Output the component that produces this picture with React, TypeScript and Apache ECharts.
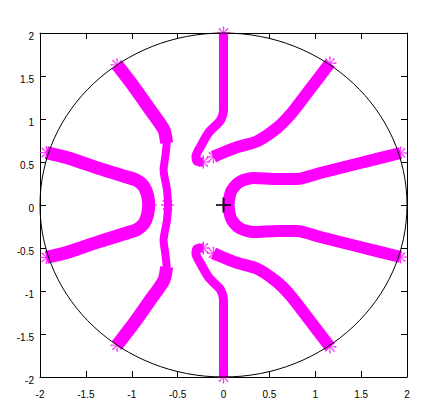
import { useEffect, useRef } from "react";
import * as echarts from "echarts";

// Axis ticks
const tickValues = [-2, -1.5, -1, -0.5, 0, 0.5, 1, 1.5, 2];
const xTickLabels = ["-2", "-1.5", "-1", "-0.5", "0", "0.5", "1", "1.5", "2"];
const yTickLabels = ["-2", "-1.5", "-1", "-0.5", "0", "0.5", "1", "1.5", "2"];

// Reference circle radius (data units)
const circleRadius = 2;

// Branch near the imaginary axis (upper / lower)
const upperAxisBranchX = [-0.22, -0.29, -0.3, -0.25, -0.165, -0.09, -0.03, 0, 0];
const upperAxisBranchY = [0.5, 0.51, 0.566, 0.68, 0.837, 0.92, 0.99, 1.1, 2.0];
const lowerAxisBranchX = [-0.22, -0.29, -0.3, -0.25, -0.165, -0.09, -0.03, 0, 0];
const lowerAxisBranchY = [-0.5, -0.51, -0.566, -0.68, -0.837, -0.92, -0.99, -1.1, -2.0];

// Branch going to the upper / lower right
const upperRightBranchX = [-0.11, -0.07, 0.14, 0.365, 0.583, 0.728, 0.91, 1.16];
const upperRightBranchY = [0.56, 0.58, 0.67, 0.74, 0.895, 1.05, 1.3, 1.65];
const lowerRightBranchX = [-0.11, -0.07, 0.14, 0.365, 0.583, 0.728, 0.91, 1.16];
const lowerRightBranchY = [-0.56, -0.58, -0.67, -0.74, -0.895, -1.05, -1.3, -1.65];

// Right loop around the origin
const rightLoopX = [1.93, 1.49, 1.055, 0.8, 0.583, 0.33, 0.183, 0.093, 0.065, 0.056, 0.065, 0.093, 0.183, 0.33, 0.583, 0.8, 1.055, 1.49, 1.93];
const rightLoopY = [0.605, 0.488, 0.372, 0.302, 0.302, 0.314, 0.274, 0.178, 0.09, 0, -0.09, -0.178, -0.274, -0.314, -0.302, -0.302, -0.372, -0.488, -0.605];

// Left-centre branch: upper diagonal, wavy vertical, lower diagonal
const upperLeftDiagX = [-1.16, -0.98, -0.8, -0.65, -0.62];
const upperLeftDiagY = [1.63, 1.38, 1.108, 0.876, 0.721];
const centreWaveX = [-0.65, -0.62, -0.634, -0.653, -0.616, -0.605, -0.616, -0.653, -0.634, -0.62, -0.65];
const centreWaveY = [0.876, 0.721, 0.565, 0.41, 0.178, 0, -0.178, -0.41, -0.565, -0.721, -0.876];
const lowerLeftDiagX = [-0.62, -0.65, -0.8, -0.98, -1.16];
const lowerLeftDiagY = [-0.721, -0.876, -1.108, -1.38, -1.63];

// Left loop
const leftLoopX = [-1.93, -1.7, -1.34, -1.1, -0.95, -0.87, -0.83, -0.815, -0.83, -0.87, -0.95, -1.1, -1.34, -1.7, -1.93];
const leftLoopY = [0.61, 0.55, 0.42, 0.34, 0.29, 0.22, 0.12, 0, -0.12, -0.22, -0.29, -0.34, -0.42, -0.55, -0.61];

// Asterisk markers (branch ends and poles)
const starX = [0, 0, 1.16, 1.16, 1.93, 1.93, -1.16, -1.16, -1.93, -1.93, -0.22, -0.22, -0.11, -0.11, -0.8, -0.61];
const starY = [2, -2, 1.65, -1.65, 0.605, -0.605, 1.63, -1.63, 0.61, -0.61, 0.5, -0.5, 0.56, -0.56, 0, 0];

// Cross marker
const crossX = [0];
const crossY = [0];

const zip = (xs: number[], ys: number[]) => xs.map((x, i) => [x, ys[i]]);

// Thin eight-spoke asterisk outline as a single polygon (symbol shape only)
function asteriskPath(): string {
  const R = 10;
  const r = 1.6;
  const d = 0.12;
  const pts: string[] = [];
  for (let k = 0; k < 8; k++) {
    const t = (k * Math.PI) / 4;
    const p1 = [10 + R * Math.cos(t - d), 10 + R * Math.sin(t - d)];
    const p2 = [10 + R * Math.cos(t + d), 10 + R * Math.sin(t + d)];
    const ti = t + Math.PI / 8;
    const p3 = [10 + r * Math.cos(ti), 10 + r * Math.sin(ti)];
    pts.push(`${p1[0].toFixed(2)},${p1[1].toFixed(2)}`);
    pts.push(`${p2[0].toFixed(2)},${p2[1].toFixed(2)}`);
    pts.push(`${p3[0].toFixed(2)},${p3[1].toFixed(2)}`);
  }
  return "path://M" + pts.join("L") + "Z";
}

export default function App() {
  const ref = useRef<HTMLDivElement>(null);

  useEffect(() => {
    if (!ref.current) return;
    const chart = echarts.init(ref.current, null, { renderer: "svg" });
    const magenta = "#ff00ff";
    const font = "Liberation Sans";

    const branch = (xs: number[], ys: number[], width: number, cap = "butt") => ({
      type: "line",
      data: zip(xs, ys),
      symbol: "none",
      showSymbol: false,
      smooth: 0.25,
      clip: false,
      silent: true,
      z: 2,
      lineStyle: { color: magenta, width, cap, join: "round" },
    });

    const fmt = (labels: string[]) => (v: number) => {
      const i = tickValues.findIndex((t) => Math.abs(t - v) < 1e-9);
      return i >= 0 ? labels[i] : "";
    };

    const baseAxis = {
      type: "value",
      min: -2,
      max: 2,
      interval: 0.5,
      splitLine: { show: false },
      axisLine: { show: true, onZero: false, lineStyle: { color: "#000", width: 1 } },
      axisTick: { show: true, inside: true, length: 6, lineStyle: { color: "#000", width: 1 } },
    };

    chart.setOption({
      animation: false,
      backgroundColor: "#fff",
      grid: { left: 40, top: 33, width: 367, height: 344, containLabel: false },
      xAxis: [
        {
          ...baseAxis,
          position: "bottom",
          axisLabel: { color: "#000", fontFamily: font, fontSize: 10, margin: 12, formatter: fmt(xTickLabels) },
        },
        { ...baseAxis, position: "top", axisLabel: { show: false } },
      ],
      yAxis: [
        {
          ...baseAxis,
          position: "left",
          axisLabel: {
            color: "#000",
            fontFamily: font,
            fontSize: 10,
            margin: 6,
            verticalAlign: "top",
            lineHeight: 6,
            formatter: fmt(yTickLabels),
          },
        },
        { ...baseAxis, position: "right", axisLabel: { show: false } },
      ],
      series: [
        branch(upperAxisBranchX, upperAxisBranchY, 9),
        branch(lowerAxisBranchX, lowerAxisBranchY, 9),
        branch(upperRightBranchX, upperRightBranchY, 12),
        branch(lowerRightBranchX, lowerRightBranchY, 12),
        branch(rightLoopX, rightLoopY, 12),
        branch(upperLeftDiagX, upperLeftDiagY, 13),
        branch(centreWaveX, centreWaveY, 8, "round"),
        branch(lowerLeftDiagX, lowerLeftDiagY, 13),
        branch(leftLoopX, leftLoopY, 13),
        {
          type: "scatter",
          data: zip(starX, starY),
          symbol: asteriskPath(),
          symbolSize: 13,
          clip: false,
          silent: true,
          z: 3,
          itemStyle: { color: magenta },
        },
        {
          type: "scatter",
          data: zip(crossX, crossY),
          symbol: "path://M6,0H8V6H14V8H8V14H6V8H0V6H6Z",
          symbolSize: 15,
          silent: true,
          z: 5,
          itemStyle: { color: "#000" },
        },
      ],
    });

    const c = chart.convertToPixel({ xAxisIndex: 0, yAxisIndex: 0 }, [0, 0]) as number[];
    const e = chart.convertToPixel({ xAxisIndex: 0, yAxisIndex: 0 }, [circleRadius, circleRadius]) as number[];
    chart.setOption({
      graphic: [
        {
          type: "ellipse",
          silent: true,
          z: 100,
          shape: { cx: c[0], cy: c[1], rx: e[0] - c[0], ry: c[1] - e[1] },
          style: { fill: "none", stroke: "#000", lineWidth: 1 },
        },
      ],
    });

    return () => chart.dispose();
  }, []);

  return <div ref={ref} style={{ position: "fixed", left: 0, top: 0, width: 439, height: 411 }} />;
}
